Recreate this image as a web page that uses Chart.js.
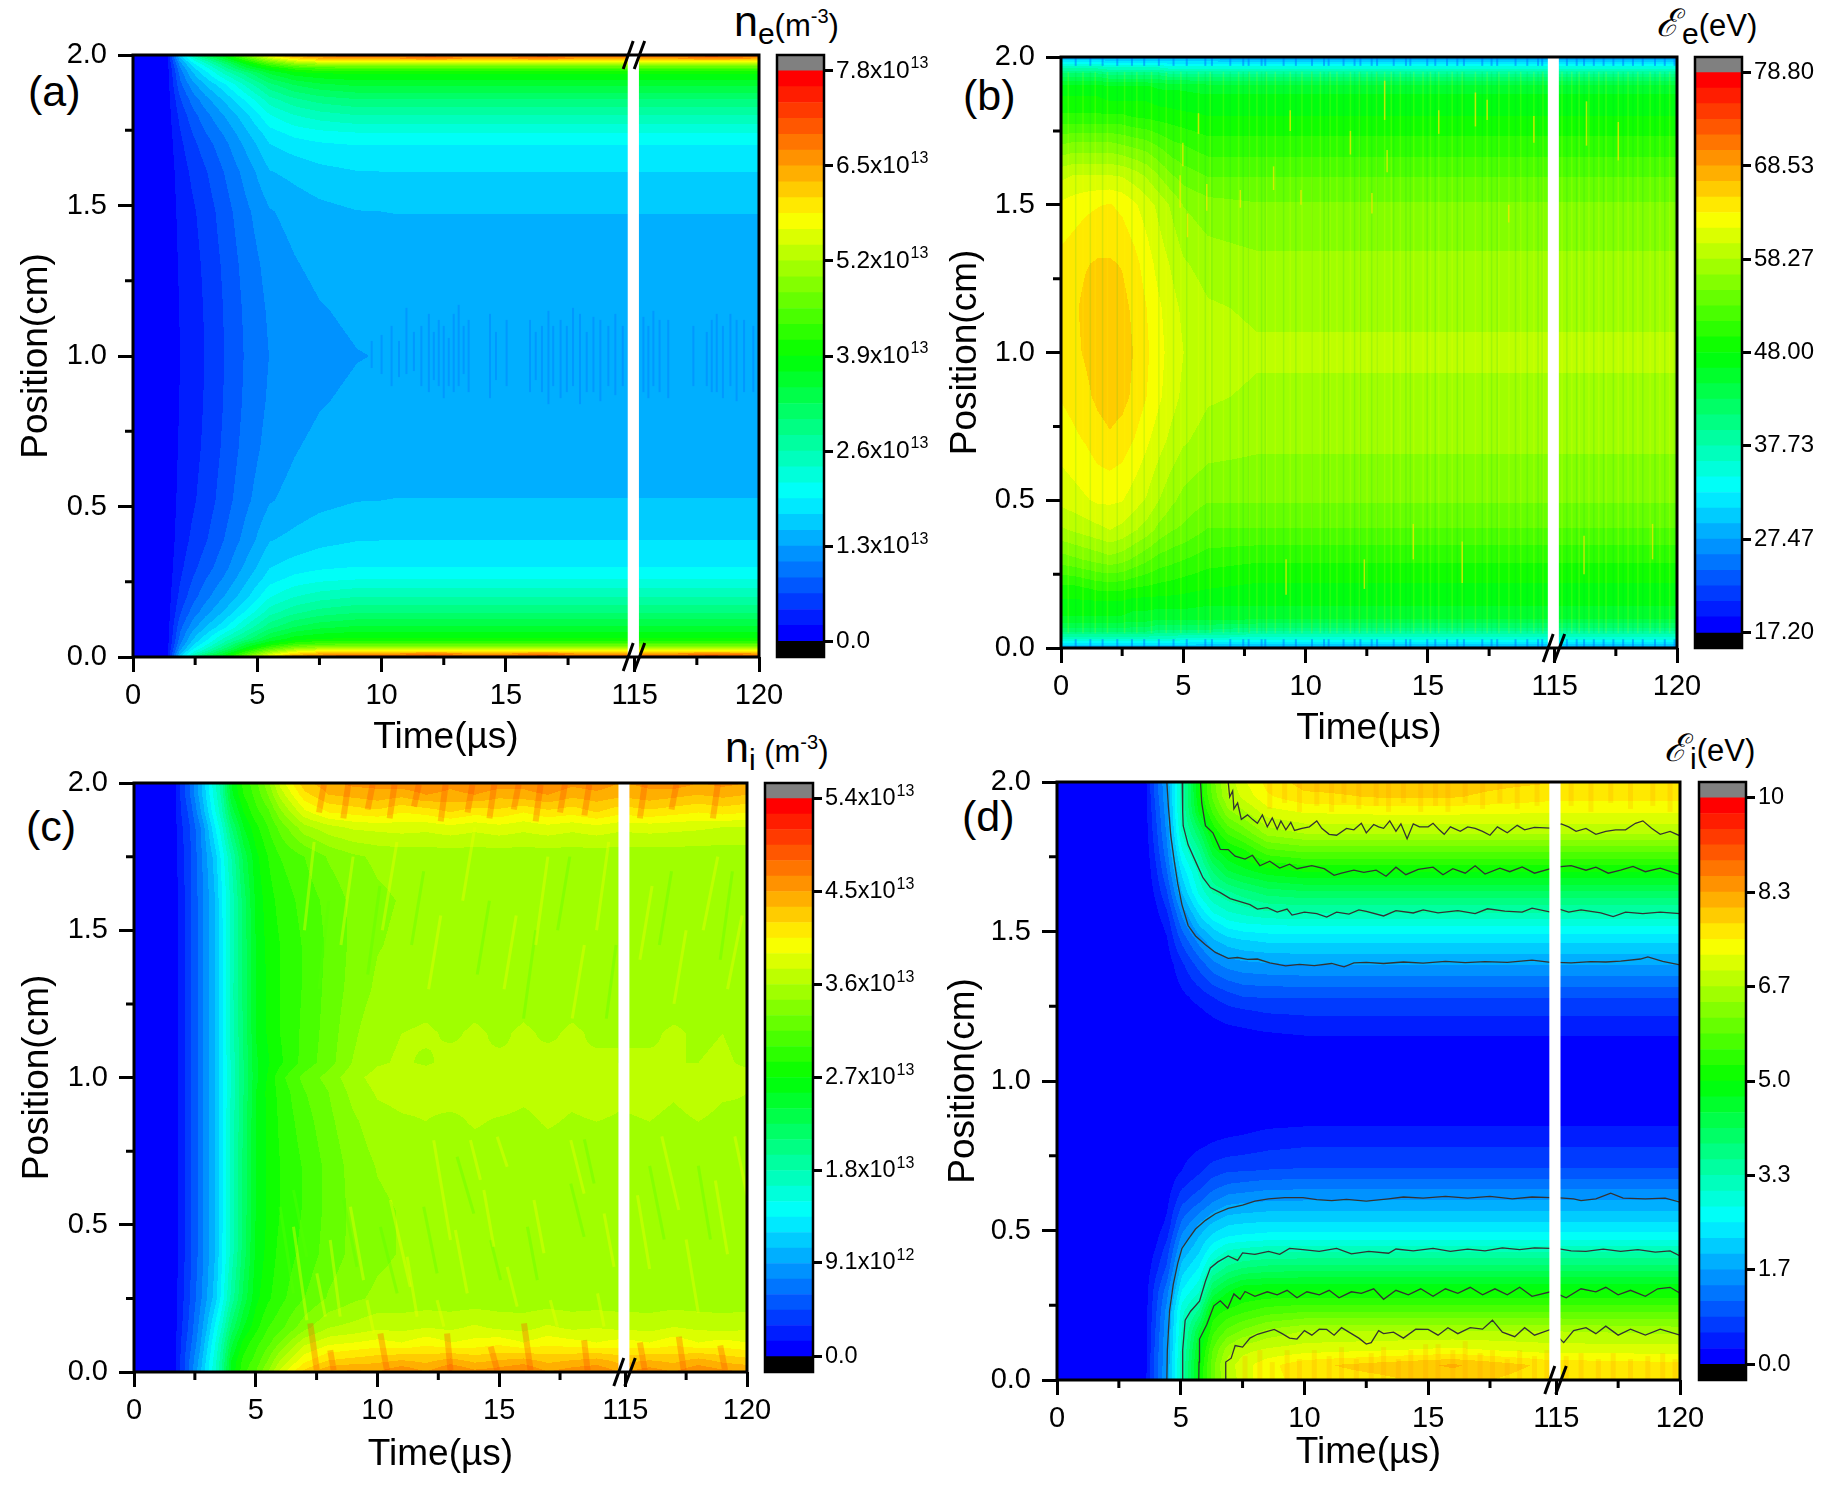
<!DOCTYPE html>
<html>
<head>
<meta charset="utf-8">
<title>Plasma contour panels</title>
<script src="https://cdn.jsdelivr.net/npm/chart.js@4"></script>
<style>
  html, body { margin: 0; padding: 0; background: #fff; }
  #page { position: relative; width: 1830px; height: 1485px; overflow: hidden; font-family: "Liberation Sans", Arial, sans-serif; color: #000; }
  canvas { position: absolute; }
  .lbl { position: absolute; white-space: nowrap; line-height: 1; }
  .letter { font-size: 43px; }
  .big { font-size: 43px; }
  .mid { font-size: 31px; }
  .sub { font-size: 30px; position: relative; top: 8px; }
  .sup { font-size: 20px; position: relative; top: -13px; }
  .script { font-family: "DejaVu Serif", serif; font-style: italic; font-size: 38px; margin-right: 3px; }
</style>
</head>
<body>
<div id="page">
  <div class="lbl letter" style="left:28px;top:70px">(a)</div>
  <div class="lbl letter" style="left:963px;top:74px">(b)</div>
  <div class="lbl letter" style="left:26px;top:805px">(c)</div>
  <div class="lbl letter" style="left:962px;top:795px">(d)</div>
  <div class="lbl" style="left:734px;top:0px"><span class="big">n</span><span class="sub">e</span><span class="mid">(m</span><span class="sup">-3</span><span class="mid">)</span></div>
  <div class="lbl" style="left:1656px;top:4px"><span class="script">ℰ</span><span class="sub">e</span><span class="mid">(eV)</span></div>
  <div class="lbl" style="left:725px;top:726px"><span class="big">n</span><span class="sub">i</span><span class="mid"> (m</span><span class="sup">-3</span><span class="mid">)</span></div>
  <div class="lbl" style="left:1664px;top:729px"><span class="script">ℰ</span><span class="sub">i</span><span class="mid">(eV)</span></div>
</div>
<script>
// axis ticks
const timeTickPos = [0, 5, 10, 15, 20.18, 25.18];
const timeTickText = ['0', '5', '10', '15', '115', '120'];
const timeMinorPos = [2.5, 7.5, 12.5, 17.5, 22.68];
const posTicks = [0, 0.5, 1, 1.5, 2];
const posMinor = [0.25, 0.75, 1.25, 1.75];

// (a) electron density, 1e13 m-3. one row per time, values run from position 0 up to 2
const neBarTicks = [0, 1.3, 2.6, 3.9, 5.2, 6.5, 7.8];
const neBarText = ['0.0', '1.3x10', '2.6x10', '3.9x10', '5.2x10', '6.5x10', '7.8x10'];
const neBarExp = ['', '13', '13', '13', '13', '13', '13'];
const neTimes = [0, 1.3, 1.4, 1.9, 2.4, 2.9, 3.7, 4.5, 5.5, 6.5, 7.5, 9, 10.5, 12, 13.5, 15, 16.5, 18, 19.9, 115, 116.5, 118, 120];
const nePositions = [0, .01, .02, .03, .045, .06, .1, .15, .2, .26, .3, .39, .52, .7, .85, 1, 1.15, 1.3, 1.48, 1.61, 1.7, 1.74, 1.8, 1.85, 1.9, 1.94, 1.955, 1.97, 1.98, 1.99, 2];
const neValues = [
  [0,0,0,0,0,0,0,0,0,0,0,0,0,0,0,0,0,0,0,0,0,0,0,0,0,0,0,0,0,0,0],
  [.03,.03,.03,.03,.03,.03,.02,.02,.02,.02,.02,.02,.02,.02,.02,.02,.02,.02,.02,.02,.02,.02,.02,.02,.02,.03,.03,.03,.03,.03,.03],
  [.22,.2,.19,.18,.17,.16,.14,.13,.12,.11,.1,.09,.08,.07,.06,.06,.06,.07,.08,.09,.1,.11,.12,.13,.14,.16,.17,.18,.19,.2,.22],
  [1.7,1.5,1.35,1.2,1.05,.95,.8,.62,.5,.42,.38,.32,.28,.25,.23,.22,.23,.25,.28,.32,.38,.42,.5,.62,.8,.95,1.05,1.2,1.35,1.5,1.7],
  [2.6,2.3,2.05,1.85,1.65,1.5,1.2,.95,.78,.65,.58,.48,.4,.36,.34,.33,.34,.36,.4,.48,.58,.65,.78,.95,1.2,1.5,1.65,1.85,2.05,2.3,2.6],
  [3.3,2.9,2.55,2.3,2.05,1.85,1.5,1.2,1,.85,.75,.62,.52,.47,.45,.44,.45,.47,.52,.62,.75,.85,1,1.2,1.5,1.85,2.05,2.3,2.55,2.9,3.3],
  [3.9,3.6,3.3,3,2.7,2.45,1.9,1.55,1.32,1.12,1.02,.88,.77,.7,.67,.66,.67,.7,.77,.88,1.02,1.12,1.32,1.55,1.9,2.45,2.7,3,3.3,3.6,3.9],
  [4.8,4.4,4.05,3.7,3.35,2.9,2.4,1.95,1.65,1.45,1.33,1.15,1.02,.94,.9,.88,.9,.94,1.02,1.15,1.33,1.45,1.65,1.95,2.4,2.9,3.35,3.7,4.05,4.4,4.8],
  [5.9,5.4,4.9,4.4,3.85,3.5,2.95,2.5,2.15,1.85,1.72,1.5,1.28,1.17,1.12,1.09,1.12,1.17,1.28,1.5,1.72,1.85,2.15,2.5,2.95,3.5,3.85,4.4,4.9,5.4,5.9],
  [6.6,6.1,5.5,4.9,4.2,3.8,3.25,2.75,2.38,2.02,1.83,1.58,1.38,1.28,1.2,1.16,1.2,1.28,1.38,1.58,1.83,2.02,2.38,2.75,3.25,3.8,4.2,4.9,5.5,6.1,6.6],
  [6.9,6.4,5.8,5.1,4.35,3.9,3.4,2.9,2.5,2.1,1.9,1.66,1.45,1.36,1.28,1.22,1.28,1.36,1.45,1.66,1.9,2.1,2.5,2.9,3.4,3.9,4.35,5.1,5.8,6.4,6.9],
  [7,6.6,5.9,5.2,4.4,3.95,3.5,3,2.6,2.15,1.95,1.72,1.51,1.42,1.35,1.29,1.35,1.42,1.51,1.72,1.95,2.15,2.6,3,3.5,3.95,4.4,5.2,5.9,6.6,7],
  [7.1,6.6,5.9,5.2,4.4,3.95,3.5,3,2.6,2.15,1.95,1.73,1.52,1.44,1.38,1.32,1.38,1.44,1.52,1.73,1.95,2.15,2.6,3,3.5,3.95,4.4,5.2,5.9,6.6,7.1],
  [7.2,6.7,5.9,5.2,4.4,3.95,3.5,3,2.6,2.15,1.95,1.73,1.52,1.44,1.38,1.31,1.38,1.44,1.52,1.73,1.95,2.15,2.6,3,3.5,3.95,4.4,5.2,5.9,6.7,7.2],
  [7,6.6,5.9,5.2,4.4,3.95,3.5,3,2.6,2.15,1.95,1.73,1.52,1.44,1.38,1.31,1.38,1.44,1.52,1.73,1.95,2.15,2.6,3,3.5,3.95,4.4,5.2,5.9,6.6,7],
  [7.1,6.6,5.9,5.2,4.4,3.95,3.5,3,2.6,2.15,1.95,1.73,1.52,1.44,1.38,1.33,1.38,1.44,1.52,1.73,1.95,2.15,2.6,3,3.5,3.95,4.4,5.2,5.9,6.6,7.1],
  [7.2,6.7,5.9,5.2,4.4,3.95,3.5,3,2.6,2.15,1.95,1.73,1.52,1.44,1.38,1.31,1.38,1.44,1.52,1.73,1.95,2.15,2.6,3,3.5,3.95,4.4,5.2,5.9,6.7,7.2],
  [7,6.6,5.9,5.2,4.4,3.95,3.5,3,2.6,2.15,1.95,1.73,1.52,1.44,1.38,1.31,1.38,1.44,1.52,1.73,1.95,2.15,2.6,3,3.5,3.95,4.4,5.2,5.9,6.6,7],
  [7.1,6.6,5.9,5.2,4.4,3.95,3.5,3,2.6,2.15,1.95,1.73,1.52,1.44,1.38,1.31,1.38,1.44,1.52,1.73,1.95,2.15,2.6,3,3.5,3.95,4.4,5.2,5.9,6.6,7.1],
  [7.1,6.6,5.9,5.2,4.4,3.95,3.5,3,2.6,2.15,1.95,1.73,1.52,1.44,1.38,1.31,1.38,1.44,1.52,1.73,1.95,2.15,2.6,3,3.5,3.95,4.4,5.2,5.9,6.6,7.1],
  [7,6.6,5.9,5.2,4.4,3.95,3.5,3,2.6,2.15,1.95,1.73,1.52,1.44,1.38,1.33,1.38,1.44,1.52,1.73,1.95,2.15,2.6,3,3.5,3.95,4.4,5.2,5.9,6.6,7],
  [7.2,6.7,5.9,5.2,4.4,3.95,3.5,3,2.6,2.15,1.95,1.73,1.52,1.44,1.38,1.31,1.38,1.44,1.52,1.73,1.95,2.15,2.6,3,3.5,3.95,4.4,5.2,5.9,6.7,7.2],
  [7.1,6.6,5.9,5.2,4.4,3.95,3.5,3,2.6,2.15,1.95,1.73,1.52,1.44,1.38,1.31,1.38,1.44,1.52,1.73,1.95,2.15,2.6,3,3.5,3.95,4.4,5.2,5.9,6.6,7.1]
];
// darker spikes around the middle of (a), [time, from position, to position]
const neCentreSpikes = [[9.6,.96,1.05],[10,.94,1.07],[10.4,.9,1.1],[10.7,.93,1.05],[11,.94,1.16],[11.3,.95,1.08],[11.6,.9,1.1],[11.9,.88,1.14],[12.1,.92,1.08],[12.3,.9,1.12],[12.5,.86,1.1],[12.7,.9,1.06],[12.9,.88,1.14],[13.1,.9,1.17],[13.3,.94,1.1],[13.5,.88,1.12],[14.36,.86,1.14],[14.6,.92,1.08],[15.03,.9,1.12],[15.97,.88,1.12],[16.2,.92,1.08],[16.45,.88,1.1],[16.71,.84,1.15],[16.9,.9,1.1],[17.2,.86,1.12],[17.45,.88,1.1],[17.7,.9,1.16],[17.98,.84,1.14],[18.25,.88,1.08],[18.52,.88,1.13],[18.8,.85,1.12],[19.12,.9,1.1],[19.4,.87,1.14],[19.7,.9,1.1],[115.1,.9,1.1],[115.35,.88,1.13],[115.55,.86,1.1],[115.75,.9,1.15],[116,.88,1.12],[116.35,.86,1.12],[117.36,.9,1.1],[117.9,.9,1.08],[118.1,.88,1.12],[118.3,.88,1.14],[118.55,.86,1.1],[118.85,.9,1.14],[119.1,.85,1.12],[119.4,.88,1.12],[119.77,.88,1.1]];

// (b) electron energy, eV
const eeBarTicks = [17.2, 27.47, 37.73, 48, 58.27, 68.53, 78.8];
const eeBarText = ['17.20', '27.47', '37.73', '48.00', '58.27', '68.53', '78.80'];
const eeBarExp = ['', '', '', '', '', '', ''];
const eeTimes = [0, .5, 1, 1.5, 2, 2.5, 3, 3.5, 4, 4.5, 5, 6, 8, 12, 19.9, 115, 120];
const eePositions = [0, .01, .03, .06, .1, .15, .2, .3, .4, .5, .7, .85, 1, 1.15, 1.3, 1.5, 1.6, 1.7, 1.8, 1.85, 1.9, 1.94, 1.97, 1.99, 2];
const eeValues = [
  [27,31,36,42,46,47.5,49,54,58,60.5,62.5,63.5,64,64.2,64,62,59.5,55,50,48.5,47,42,36,31,27],
  [27,31,36,42,46,47.5,49,54.5,58.5,61,63,64,64.7,64.8,64.5,62.5,60,55.5,50,48.5,47,42,36,31,27],
  [27,31,36,42,46,47.5,49.5,55,59,61.5,63.5,64.7,65.3,65.5,65,63,60,55.5,50,48.5,47,42,36,31,27],
  [27,31,36,42,46,47.5,50,55.5,59.5,62,64.3,65.5,66,66,65.3,63.3,60,55.5,50,48.5,47,42,36,31,27],
  [27,31,36,42,46,47.5,50,56,60,62,64.8,66,66.5,66.3,65.3,63.5,60,55.5,50,48,46.5,41,35,30,27],
  [27,31,36,42,46,47.5,50,55.5,59.5,61.8,64.3,65.7,66,65.7,65,63,59.8,55,50,48,46.5,41,35,30,27],
  [27,31,36,42,45.5,47,49.5,54.5,58.5,60.8,63.3,64.7,65,64.7,64,62,59,54.5,49.5,48,46.5,41,35,30,27],
  [27,31,36,42,45.5,47,49.3,53.5,57.5,59.8,62,63.4,63.7,63.4,62.6,60.8,58,54,49.3,48,46.5,41,35,30,27],
  [27,31,36,41,45,47,49,52.5,56,58.3,60.7,62,62.3,62,61,59.5,56.5,53,49,47.5,46,41,35,30,27],
  [27,31,36,41,45,47,48.8,52,55,57,59.5,60.7,61,60.7,59.8,58,55,52,48.8,47.3,46,40,34,30,27],
  [27,31,35,41,45,47,48.5,51.5,54.5,56,58.5,59.6,60,59.6,58.5,56.5,54,51.5,48.5,47,46,40,34,30,27],
  [26,30,35,41,45,46.5,48,50.5,53,55,57.5,58.5,59,58.5,57.5,55.5,53,50.5,48,47,45.5,40,34,30,26],
  [26,30,35,40,45,46.5,47.5,50,53,55,57,58,58.5,58,57,55,53,50.5,48,47,45.5,40,34,29,26],
  [26,30,35,40,45,46.5,47.5,50,53,55,57,58,58.5,58,57,55,53,50.5,48,47,45.5,40,34,29,26],
  [26,30,35,40,45,46.5,47.5,50,53,55,57,58,58.5,58,57,55,53,50.5,48,47,45.5,40,34,29,26],
  [26,30,35,40,45,46.5,47.5,50,53,55,57,58,58.5,58,57,55,53,50.5,48,47,45.5,40,34,29,26],
  [26,30,35,40,45,46.5,47.5,50,53,55,57,58,58.5,58,57,55,53,50.5,48,47,45.5,40,34,29,26]
];
// thin vertical streaks of (b), times
const eeLightTimes = [.3,.9,1.4,1.9,2.6,3.1,3.7,4.3,4.9,5.62,6.1,6.64,7.26,7.7,8.01,8.4,8.76,9.37,9.85,10.25,10.6,11,11.28,11.83,12.2,12.51,12.9,13.23,13.5,13.87,14.42,14.8,15.1,15.44,15.99,16.4,16.94,17.42,17.9,18.31,18.79,19.33,19.7,115.3,115.7,116,116.4,116.8,117.1,117.6,118,118.4,118.9,119.3,119.7];
const eeDarkTimes = [.6,1.2,1.7,2.3,2.9,3.4,4,4.6,5.14,5.9,6.17,6.92,7.45,7.67,8.2,8.35,9.1,9.6,10.26,10.75,10.94,11.55,12,12.24,12.7,12.92,13.6,14.1,14.28,14.97,15.3,15.78,16.2,16.47,17.22,17.6,17.83,18.58,19.06,19.5,19.67,115.1,115.5,115.9,116.2,116.6,117,117.4,117.8,118.2,118.6,119.1,119.5,119.9];
// brighter short streaks, [time, from position, to position]
const eeBrightSpikes = [[13.23,1.787,1.92],[15.44,1.74,1.82],[11.83,1.67,1.75],[13.33,1.61,1.685],[5.62,1.74,1.81],[4.98,1.63,1.71],[4.87,1.49,1.6],[9.37,1.75,1.82],[7.33,1.49,1.55],[9.81,1.5,1.55],[5.17,1.39,1.47],[5.96,1.48,1.57],[8.69,1.55,1.63],[12.71,1.47,1.54],[16.94,1.765,1.88],[19.33,1.71,1.8],[18.3,1.44,1.5],[17.42,1.787,1.855],[12.4,.2,.3],[16.4,.22,.36],[9.2,.18,.3],[14.4,.3,.42],[117.6,1.65,1.78],[116.3,1.7,1.85],[116.2,.25,.38],[119,.3,.42]];

// (c) ion density, 1e13 m-3
const niBarTicks = [0, 0.91, 1.8, 2.7, 3.6, 4.5, 5.4];
const niBarText = ['0.0', '9.1x10', '1.8x10', '2.7x10', '3.6x10', '4.5x10', '5.4x10'];
const niBarExp = ['', '12', '13', '13', '13', '13', '13'];
const niTimes = [0, 1.6, 1.9, 2.3, 2.7, 3, 3.3, 3.6, 4, 4.5, 5, 5.5, 6, 7, 8, 9, 10, 11, 12, 13, 14, 15, 16, 17, 18, 19, 19.9, 115, 116, 117, 118, 119, 120];
const niPositions = [0, .04, .1, .15, .25, .4, .55, .7, .85, .95, 1, 1.05, 1.15, 1.3, 1.45, 1.6, 1.75, 1.85, 1.9, 1.96, 2];
const niValues = [
  [0,0,0,0,0,0,0,0,0,0,0,0,0,0,0,0,0,0,0,0,0],
  [.05,.05,.05,.05,.05,.05,.05,.05,.05,.05,.05,.05,.05,.05,.05,.05,.05,.05,.05,.05,.05],
  [.3,.3,.28,.25,.22,.2,.2,.2,.2,.2,.2,.2,.2,.2,.2,.2,.22,.25,.28,.3,.3],
  [.65,.62,.55,.5,.45,.42,.42,.42,.42,.42,.42,.42,.42,.42,.42,.42,.42,.45,.5,.6,.62],
  [1,.95,.85,.8,.7,.65,.65,.65,.65,.65,.65,.65,.65,.65,.65,.65,.68,.72,.85,.95,.98],
  [1.3,1.25,1.15,1.05,.9,.85,.85,.85,.85,.85,.85,.85,.85,.85,.85,.85,.9,1,1.15,1.25,1.28],
  [1.6,1.55,1.45,1.35,1.1,1.03,1.02,1.02,1.02,1.02,1.02,1.02,1.02,1.02,1.02,1.03,1.1,1.31,1.45,1.55,1.6],
  [1.95,1.9,1.8,1.65,1.4,1.32,1.31,1.31,1.31,1.31,1.31,1.31,1.31,1.31,1.31,1.32,1.4,1.6,1.75,1.85,1.9],
  [2.6,2.55,2.35,2.15,1.85,1.72,1.7,1.7,1.7,1.68,1.65,1.68,1.72,1.73,1.7,1.7,1.8,2.1,2.3,2.5,2.55],
  [2.95,2.9,2.75,2.55,2.3,2.18,2.15,2.15,2.12,2.1,2.1,2.1,2.12,2.15,2.15,2.17,2.3,2.55,2.7,2.85,2.9],
  [3.15,3.05,2.95,2.8,2.65,2.58,2.55,2.55,2.55,2.55,2.5,2.52,2.55,2.55,2.55,2.58,2.65,2.8,2.95,3.05,3.1],
  [3.45,3.3,3.1,3,2.82,2.75,2.72,2.72,2.72,2.74,2.72,2.68,2.72,2.72,2.75,2.78,2.85,3,3.1,3.3,3.4],
  [3.8,3.6,3.3,3.1,2.95,2.9,2.85,2.85,2.88,2.9,2.95,2.82,2.85,2.85,2.85,2.9,3,3.2,3.4,3.65,3.8],
  [4.25,4,3.7,3.4,3.15,3.05,3.02,3.02,3.08,3.14,3.2,3.06,3.04,3.02,3.02,3.06,3.15,3.55,3.85,4.15,4.3],
  [4.5,4.2,3.85,3.6,3.32,3.22,3.2,3.2,3.26,3.3,3.36,3.24,3.22,3.2,3.18,3.2,3.32,3.7,4.05,4.35,4.45],
  [4.55,4.25,3.9,3.65,3.42,3.34,3.34,3.36,3.42,3.5,3.55,3.46,3.42,3.36,3.34,3.34,3.42,3.78,4.1,4.4,4.55],
  [4.5,4.3,3.95,3.72,3.48,3.42,3.42,3.46,3.54,3.62,3.66,3.58,3.56,3.48,3.44,3.42,3.48,3.8,4.15,4.45,4.55],
  [4.65,4.35,3.9,3.7,3.5,3.46,3.46,3.5,3.58,3.65,3.7,3.62,3.6,3.52,3.48,3.46,3.5,3.82,4.05,4.4,4.6],
  [4.5,4.3,4,3.75,3.5,3.46,3.46,3.5,3.6,3.64,3.68,3.58,3.62,3.54,3.48,3.46,3.5,3.8,4.1,4.5,4.65],
  [4.7,4.4,3.9,3.72,3.5,3.46,3.46,3.5,3.56,3.68,3.74,3.64,3.58,3.52,3.48,3.46,3.5,3.85,4.2,4.45,4.55],
  [4.55,4.3,3.95,3.78,3.5,3.46,3.46,3.5,3.62,3.64,3.66,3.6,3.62,3.54,3.48,3.46,3.5,3.8,4.1,4.5,4.65],
  [4.6,4.35,4,3.72,3.5,3.46,3.46,3.5,3.58,3.7,3.74,3.62,3.58,3.52,3.48,3.46,3.5,3.85,4.15,4.4,4.6],
  [4.7,4.4,3.9,3.7,3.5,3.46,3.46,3.5,3.56,3.64,3.68,3.6,3.62,3.54,3.48,3.46,3.5,3.8,4.05,4.45,4.55],
  [4.5,4.3,4,3.78,3.5,3.46,3.46,3.5,3.62,3.66,3.64,3.64,3.58,3.52,3.48,3.46,3.5,3.85,4.15,4.5,4.65],
  [4.6,4.35,3.95,3.72,3.5,3.46,3.46,3.5,3.58,3.64,3.7,3.6,3.62,3.54,3.48,3.46,3.5,3.8,4.1,4.4,4.55],
  [4.65,4.4,3.9,3.75,3.5,3.46,3.46,3.5,3.6,3.68,3.72,3.62,3.58,3.52,3.48,3.46,3.5,3.85,4.2,4.45,4.6],
  [4.5,4.3,3.95,3.72,3.5,3.46,3.46,3.5,3.58,3.64,3.68,3.6,3.6,3.52,3.48,3.46,3.5,3.8,4.1,4.4,4.5],
  [4.5,4.3,3.95,3.72,3.5,3.46,3.46,3.5,3.58,3.64,3.68,3.6,3.6,3.52,3.48,3.46,3.5,3.8,4.1,4.4,4.5],
  [4.6,4.35,3.9,3.7,3.5,3.46,3.46,3.5,3.6,3.66,3.68,3.62,3.58,3.52,3.48,3.46,3.5,3.82,4.15,4.45,4.55],
  [4.5,4.3,4,3.76,3.5,3.46,3.46,3.5,3.56,3.62,3.64,3.6,3.62,3.52,3.48,3.46,3.5,3.8,4.1,4.4,4.6],
  [4.65,4.4,3.9,3.72,3.5,3.46,3.46,3.5,3.6,3.68,3.7,3.6,3.58,3.54,3.48,3.46,3.5,3.78,4.05,4.35,4.5],
  [4.55,4.3,3.95,3.7,3.5,3.46,3.46,3.5,3.56,3.62,3.64,3.62,3.6,3.52,3.48,3.46,3.5,3.75,4.1,4.4,4.55],
  [4.5,4.25,3.9,3.72,3.5,3.46,3.46,3.48,3.58,3.6,3.64,3.58,3.56,3.52,3.48,3.46,3.5,3.75,4.05,4.35,4.5]
];
// slanted streaks of (c), [time1, position1, time2, position2]
const niYellowStreaks = [[6.55,.493,7.1,.176],[8.06,.448,8.47,.188],[10.53,.584,11.35,.289],[11.22,.391,11.63,.188],[12.31,.787,13,.448],[13.2,.482,13.69,.267],[15.33,.357,15.74,.222],[16.43,.584,16.84,.403],[17.94,.787,18.49,.606],[19.31,.538,19.72,.357],[8.89,.561,9.43,.312],[14.37,.618,14.78,.425],[17.1,.244,17.39,.154],[9.57,.244,9.85,.131],[12.45,.244,12.73,.154],[19.04,.267,19.31,.154],[7.51,.335,7.86,.188],[13.82,.787,14.23,.652],[14.92,.799,15.33,.697],[7,1.5,7.4,1.8],[8.5,1.45,9,1.75],[10.2,1.5,10.8,1.8],[12.1,1.3,12.6,1.55],[13.5,1.6,14,1.85],[15.2,1.3,15.7,1.55],[16.5,1.45,17,1.75],[18,1.2,18.5,1.45],[19,1.5,19.5,1.8],[115.5,.6,116,.35],[116.5,.8,117.2,.55],[117.5,.45,118,.2],[118.7,.65,119.2,.4],[119.5,.8,120,.6],[115.6,1.4,116.1,1.65],[117,1.25,117.5,1.5],[118.2,1.5,118.8,1.75],[119.2,1.3,119.8,1.55]];
const niGreenStreaks = [[6.55,.618,7.1,.391],[10.12,.493,10.81,.267],[11.9,.561,12.45,.335],[14.65,.448,15.06,.312],[16.16,.493,16.57,.312],[17.94,.64,18.49,.459],[8.61,.584,9.16,.357],[13.27,.731,13.96,.538],[6,.561,6.55,.267],[18.5,.79,18.9,.64],[7.6,1.3,8,1.6],[9.6,1.35,10.1,1.65],[11.4,1.45,11.9,1.7],[14.1,1.35,14.6,1.6],[16,1.2,16.5,1.5],[17.4,1.5,17.9,1.75],[19.4,1.2,19.8,1.45],[116,.7,116.6,.45],[118,.7,118.5,.45],[116.4,1.45,116.9,1.7],[118.9,1.4,119.4,1.7]];
const niOrangeStreaks = [[7.24,.165,7.51,.006],[8.06,.074,8.2,.006],[10.12,.131,10.39,.006],[12.86,.131,13,.006],[14.65,.086,14.92,.006],[16.02,.165,16.29,.006],[18.49,.108,18.63,.006],[115.6,.1,115.8,.006],[117.2,.12,117.4,.006],[118.9,.09,119.1,.006],[7.6,1.9,7.8,1.994],[8.6,1.88,8.8,1.994],[9.6,1.91,9.8,1.994],[10.5,1.88,10.7,1.994],[11.5,1.92,11.7,1.994],[12.6,1.87,12.8,1.994],[13.7,1.9,13.9,1.994],[14.6,1.88,14.8,1.994],[15.6,1.91,15.8,1.994],[16.5,1.87,16.7,1.994],[17.5,1.9,17.7,1.994],[18.5,1.89,18.7,1.994],[115.6,1.88,115.8,1.994],[116.9,1.91,117.1,1.994],[118.6,1.88,118.8,1.994]];

// (d) ion energy, eV
const eiBarTicks = [0, 1.67, 3.33, 5, 6.67, 8.33, 10];
const eiBarText = ['0.0', '1.7', '3.3', '5.0', '6.7', '8.3', '10'];
const eiBarExp = ['', '', '', '', '', '', ''];
const eiTimes = [0, 3.6, 4, 4.44, 5.05, 5.75, 6.3, 6.9, 7.5, 8.5, 10, 13, 16, 19.9, 115, 120];
const eiPositions = [0, .05, .1, .16, .23, .3, .37, .43, .48, .52, .6, .65, .7, .78, .85, 1, 1.15, 1.22, 1.28, 1.39, 1.47, 1.52, 1.56, 1.63, 1.7, 1.77, 1.83, 1.9, 1.95, 2];
const eiValues = [
  [0,0,0,0,0,0,0,0,0,0,0,0,0,0,0,0,0,0,0,0,0,0,0,0,0,0,0,0,0,0],
  [.25,.24,.23,.22,.2,.18,.12,.06,.03,.01,0,0,0,0,0,0,0,0,0,0,0,.01,.02,.05,.08,.12,.18,.2,.22,.25],
  [1,.98,.95,.88,.8,.7,.48,.32,.2,.12,.03,.01,0,0,0,0,0,0,.02,.06,.1,.14,.2,.35,.5,.65,.75,.85,.95,1],
  [1.67,1.66,1.63,1.6,1.5,1.25,.9,.7,.5,.35,.2,.13,.08,.04,.02,0,0,.01,.03,.1,.25,.35,.5,.8,1.1,1.3,1.45,1.55,1.62,1.67],
  [3.3,3.3,3.2,3.1,2.95,2.5,2.1,1.75,1.45,1.2,.75,.5,.28,.15,.06,0,.04,.1,.2,.5,.9,1.2,1.45,1.95,2.3,2.75,3.1,3.3,3.3,3.3],
  [5,4.95,4.8,4.5,3.7,3,2.55,2.2,1.95,1.7,1.05,.75,.5,.25,.1,0,.08,.18,.38,.95,1.5,1.95,2.25,2.85,3.15,3.6,4.1,4.8,5,5.05],
  [6,6,5.85,5.5,5.1,4.2,3.35,2.75,2.3,2,1.35,1,.7,.32,.13,0,.1,.3,.55,1.3,1.9,2.3,2.75,3.35,3.9,4.6,5.05,5.6,5.9,6],
  [6.7,6.8,6.55,5.95,5.35,4.65,3.75,3.1,2.5,2.2,1.55,1.15,.8,.38,.15,.01,.15,.38,.7,1.5,2.1,2.6,3,3.55,4.4,5,5.6,6.3,6.65,6.75],
  [7.1,7.1,6.85,6.2,5.5,4.95,3.95,3.2,2.55,2.25,1.6,1.2,.82,.42,.17,.02,.18,.42,.82,1.58,2.2,2.7,3.1,3.75,4.6,5.2,5.9,6.6,7,7.15],
  [7.4,7.4,7,6.5,5.7,5,4.05,3.3,2.6,2.3,1.65,1.28,.85,.5,.24,.04,.22,.52,.85,1.63,2.28,2.75,3.25,4,4.85,5.75,6.5,7.1,7.45,7.6],
  [7.6,7.7,7.1,6.7,5.8,5,4.1,3.3,2.6,2.3,1.67,1.3,.87,.55,.27,.05,.27,.56,.85,1.67,2.3,2.8,3.3,4.1,5,5.9,6.7,7.25,7.7,7.9],
  [7.7,7.9,7.2,6.7,5.8,5,4.1,3.3,2.6,2.3,1.67,1.3,.87,.55,.27,.05,.27,.56,.85,1.67,2.3,2.8,3.3,4.1,5,5.9,6.7,7.3,7.8,7.9],
  [7.9,8.1,7.3,6.7,5.8,5,4.1,3.3,2.6,2.3,1.67,1.3,.87,.55,.27,.05,.27,.56,.85,1.67,2.3,2.8,3.3,4.1,5,5.9,6.7,7.3,7.8,7.9],
  [7.6,7.7,7.1,6.7,5.8,5,4.1,3.3,2.6,2.3,1.67,1.3,.87,.55,.27,.05,.27,.56,.85,1.67,2.3,2.8,3.3,4.1,5,5.9,6.7,7.25,7.6,7.8],
  [7.6,7.7,7.1,6.7,5.8,5,4.1,3.3,2.6,2.3,1.67,1.3,.87,.55,.27,.05,.27,.56,.85,1.67,2.3,2.8,3.3,4.1,5,5.9,6.7,7.25,7.6,7.8],
  [7.6,7.6,7.1,6.6,5.8,5,4.1,3.3,2.6,2.3,1.67,1.3,.87,.55,.27,.05,.27,.56,.85,1.67,2.3,2.8,3.3,4.1,5,5.9,6.7,7.25,7.6,7.7]
];
// orange streaks next to the walls of (d), [time, from position, to position]
const eiWallSpikes = [[7.6,0,.08],[8.2,0,.1],[8.7,0,.06],[9.3,0,.1],[9.8,0,.07],[10.4,0,.1],[11,0,.08],[11.5,0,.11],[12.1,0,.07],[12.7,0,.09],[13.2,0,.11],[13.8,0,.07],[14.3,0,.1],[14.9,0,.12],[15.4,0,.12],[16,0,.1],[16.5,0,.13],[17.1,0,.09],[17.6,0,.1],[18.2,0,.07],[18.7,0,.1],[19.3,0,.08],[19.8,0,.1],[115.4,0,.08],[116,0,.09],[116.7,0,.07],[117.3,0,.09],[118,0,.07],[118.7,0,.08],[119.3,0,.09],[119.8,0,.07],[8.6,1.91,2],[9.2,1.93,2],[9.8,1.9,2],[10.5,1.92,2],[11.1,1.9,2],[11.6,1.93,2],[12.2,1.91,2],[12.9,1.92,2],[13.4,1.9,2],[14,1.93,2],[14.7,1.9,2],[15.3,1.92,2],[15.8,1.9,2],[16.5,1.93,2],[17.2,1.91,2],[17.9,1.93,2],[18.6,1.91,2],[19.4,1.92,2],[115.6,1.92,2],[116.4,1.9,2],[117.2,1.93,2],[118,1.91,2],[118.9,1.92,2],[119.6,1.9,2]];

// (d) black contour lines, [time, position]
const eiLine1Top = [[4.44,2],[4.5,1.92],[4.6,1.82],[4.75,1.73],[4.88,1.66],[5.05,1.59],[5.3,1.52],[5.6,1.485],[6,1.456],[6.4,1.43],[6.92,1.41],[7.3,1.413],[7.7,1.407],[8.1,1.408],[8.6,1.395],[9.24,1.385],[9.8,1.39],[10.4,1.386],[11.1,1.393],[11.6,1.382],[12,1.395],[12.5,1.397],[13.2,1.393],[14,1.398],[14.8,1.394],[15.7,1.4],[16.5,1.396],[17.3,1.399],[18.2,1.397],[19.2,1.404],[19.95,1.397],[115,1.397],[115.6,1.395],[116.4,1.399],[117,1.398],[117.6,1.401],[118.4,1.408],[118.7,1.415],[119.3,1.4],[120,1.388]];
const eiLine2Top = [[5.06,2],[5.08,1.9],[5.1,1.854],[5.3,1.79],[5.64,1.727],[5.9,1.68],[6.2,1.647],[6.6,1.63],[7,1.61],[7.4,1.6],[7.8,1.59],[8.1,1.575],[8.5,1.58],[8.9,1.565],[9.3,1.575],[9.5,1.555],[10,1.565],[10.5,1.56],[10.9,1.548],[11.3,1.565],[11.8,1.558],[12.2,1.572],[12.5,1.567],[13.2,1.552],[13.7,1.57],[14.4,1.562],[14.8,1.572],[15.4,1.562],[16.2,1.57],[16.9,1.56],[17.4,1.576],[18.1,1.568],[18.8,1.565],[19.2,1.578],[19.95,1.565],[115,1.578],[115.5,1.565],[116,1.572],[116.8,1.562],[117.3,1.55],[117.8,1.565],[118.5,1.56],[119.2,1.565],[120,1.56]];
const eiLine3Top = [[5.8,2],[5.85,1.93],[6,1.854],[6.3,1.83],[6.6,1.775],[6.92,1.774],[7.2,1.752],[7.6,1.742],[7.9,1.755],[8.2,1.72],[8.6,1.735],[9,1.712],[9.4,1.725],[9.7,1.71],[10.3,1.72],[10.8,1.71],[11.2,1.688],[11.5,1.695],[12,1.705],[12.4,1.698],[12.9,1.705],[13.3,1.685],[13.7,1.715],[14.1,1.69],[14.6,1.708],[15.2,1.715],[15.6,1.69],[16,1.71],[16.5,1.695],[16.9,1.72],[17.3,1.692],[17.9,1.712],[18.3,1.7],[18.8,1.716],[19.3,1.695],[19.95,1.71],[115,1.715],[115.6,1.72],[116.2,1.705],[116.6,1.715],[117.1,1.695],[117.6,1.705],[118.1,1.718],[118.6,1.7],[119.2,1.712],[120,1.69]];
const eiLine4Top = [[6.92,2],[6.98,1.95],[7.1,1.97],[7.15,1.91],[7.3,1.93],[7.45,1.875],[7.7,1.89],[7.9,1.875],[8.1,1.862],[8.3,1.89],[8.5,1.85],[8.7,1.88],[8.9,1.842],[9.05,1.87],[9.25,1.84],[9.45,1.865],[9.6,1.838],[9.9,1.845],[10.2,1.85],[10.5,1.87],[10.7,1.845],[11,1.825],[11.3,1.822],[11.7,1.845],[12,1.84],[12.3,1.862],[12.5,1.83],[12.8,1.858],[13,1.85],[13.2,1.845],[13.45,1.87],[13.7,1.835],[13.9,1.86],[14.15,1.81],[14.4,1.86],[14.65,1.85],[15,1.85],[15.2,1.862],[15.45,1.84],[15.65,1.825],[15.9,1.85],[16.3,1.835],[16.6,1.85],[16.9,1.845],[17.2,1.835],[17.5,1.822],[17.8,1.85],[18.2,1.83],[18.6,1.855],[18.9,1.84],[19.3,1.848],[19.95,1.846],[115,1.855],[115.2,1.86],[115.5,1.85],[115.8,1.835],[116.2,1.845],[116.6,1.825],[117,1.835],[117.4,1.84],[117.8,1.84],[118.2,1.862],[118.5,1.87],[118.85,1.845],[119.2,1.825],[119.6,1.835],[120,1.82]];
const eiLine1Bottom = [[4.44,0],[4.46,.1],[4.55,.232],[4.7,.32],[4.88,.39],[5.05,.44],[5.3,.47],[5.6,.505],[6,.534],[6.4,.556],[6.92,.574],[7.5,.585],[8,.598],[8.55,.606],[9.2,.61],[9.94,.61],[10.5,.603],[11.1,.6],[11.7,.604],[12.5,.598],[13.4,.606],[14,.612],[14.8,.608],[15.7,.614],[16.6,.608],[17.5,.614],[18.4,.606],[19.2,.612],[19.95,.61],[115,.61],[115.7,.606],[116,.6],[116.6,.606],[117.2,.625],[117.7,.608],[118.6,.606],[119.4,.608],[120,.595]];
const eiLine2Bottom = [[5.06,0],[5.08,.1],[5.18,.2],[5.4,.23],[5.76,.264],[6,.33],[6.2,.375],[6.5,.395],[6.92,.415],[7.3,.4],[7.5,.425],[8,.42],[8.55,.43],[9,.42],[9.4,.44],[9.94,.436],[10.6,.43],[11.3,.44],[11.9,.422],[12.6,.43],[13.4,.424],[13.7,.438],[14.4,.432],[15.2,.44],[15.9,.43],[16.6,.438],[17.3,.432],[18,.442],[18.7,.436],[19.3,.442],[19.95,.44],[115,.44],[115.6,.432],[116.2,.43],[116.9,.438],[117.6,.43],[118.3,.436],[119,.428],[119.6,.432],[120,.415]];
const eiLine3Bottom = [[5.73,0],[5.74,.06],[5.76,.137],[6.05,.185],[6.34,.248],[6.6,.265],[6.9,.24],[7.15,.288],[7.4,.27],[7.6,.296],[8,.28],[8.5,.295],[8.9,.285],[9.3,.3],[9.7,.275],[10.1,.295],[10.6,.285],[11,.3],[11.4,.275],[11.9,.295],[12.3,.29],[12.8,.305],[13.2,.27],[13.7,.3],[14.2,.285],[14.7,.305],[15.2,.28],[15.7,.305],[16.2,.29],[16.7,.31],[17.2,.285],[17.7,.305],[18.2,.285],[18.7,.31],[19.2,.28],[19.95,.295],[115,.29],[115.4,.275],[116,.305],[116.6,.295],[117,.31],[117.5,.285],[118,.3],[118.6,.28],[119.1,.305],[119.6,.31],[120,.29]];
const eiLine4Bottom = [[6.8,0],[6.82,.06],[7.04,.073],[7.2,.115],[7.5,.11],[7.8,.14],[8.1,.153],[8.4,.16],[8.78,.169],[9.1,.155],[9.4,.14],[9.7,.137],[10,.165],[10.3,.15],[10.6,.17],[10.9,.169],[11.2,.15],[11.5,.175],[11.9,.155],[12.2,.14],[12.5,.12],[12.7,.125],[13,.165],[13.2,.155],[13.6,.16],[14,.14],[14.5,.17],[15,.169],[15.4,.15],[15.8,.175],[16.2,.155],[16.7,.175],[17.2,.17],[17.6,.2],[18,.16],[18.5,.145],[18.9,.175],[19.3,.15],[19.95,.169],[115,.15],[115.3,.125],[115.7,.165],[116.2,.175],[116.6,.155],[117,.18],[117.5,.15],[118,.17],[118.6,.15],[119.2,.17],[120,.15]];
const eiLines = [eiLine1Top, eiLine2Top, eiLine3Top, eiLine4Top, eiLine1Bottom, eiLine2Bottom, eiLine3Bottom, eiLine4Bottom];

const rainbow = [[0, 0, 255], [0, 255, 255], [0, 255, 0], [255, 255, 0], [255, 0, 0]];
const levelCount = 36;

Chart.defaults.font.family = '"Liberation Sans", Arial, sans-serif';
Chart.defaults.color = '#000';

function levelColor(k) {
  const p = k / (levelCount - 1) * 4;
  const i = Math.min(3, Math.floor(p));
  const f = p - i;
  return rainbow[i].map((c, n) => Math.round(c + (rainbow[i + 1][n] - c) * f));
}

// the axis is continuous, times past the break are shifted back onto it
function axisTime(t) {
  return t > 20 ? t - 94.82 : t;
}

function upright(list) {
  return list.map((s) => [s[0], s[1], s[0], s[2]]);
}

function fullHeight(times, from, to) {
  return times.map((t) => [t, from, t, to]);
}

function addCanvas(left, top, width, height) {
  const canvas = document.createElement('canvas');
  canvas.width = width;
  canvas.height = height;
  canvas.style.left = left + 'px';
  canvas.style.top = top + 'px';
  document.getElementById('page').appendChild(canvas);
  return canvas;
}

function findCell(nodes, value) {
  let i = 0;
  while (i < nodes.length - 2 && nodes[i + 1] <= value) i++;
  return [i, Math.min(1, Math.max(0, (value - nodes[i]) / (nodes[i + 1] - nodes[i])))];
}

// paints the level bands of the value grid into the plot area
function fieldPlugin(cfg) {
  const nodes = cfg.times.map(axisTime);
  const band = (cfg.max - cfg.min) / levelCount;
  const colors = [];
  for (let k = 0; k < levelCount; k++) colors.push(levelColor(k));
  return {
    id: 'field',
    beforeDatasetsDraw(chart) {
      const area = chart.chartArea;
      const w = Math.round(area.right - area.left);
      const h = Math.round(area.bottom - area.top);
      const off = document.createElement('canvas');
      off.width = w;
      off.height = h;
      const octx = off.getContext('2d');
      const img = octx.createImageData(w, h);
      const xCells = [];
      for (let px = 0; px < w; px++) xCells.push(findCell(nodes, chart.scales.x.getValueForPixel(area.left + px + 0.5)));
      let o = 0;
      for (let py = 0; py < h; py++) {
        const [j, fy] = findCell(cfg.positions, chart.scales.y.getValueForPixel(area.top + py + 0.5));
        for (let px = 0; px < w; px++) {
          const [i, fx] = xCells[px];
          const a = cfg.values[i][j] * (1 - fy) + cfg.values[i][j + 1] * fy;
          const b = cfg.values[i + 1][j] * (1 - fy) + cfg.values[i + 1][j + 1] * fy;
          const v = a * (1 - fx) + b * fx;
          const k = Math.max(0, Math.min(levelCount - 1, Math.floor((v - cfg.min) / band)));
          img.data[o++] = colors[k][0];
          img.data[o++] = colors[k][1];
          img.data[o++] = colors[k][2];
          img.data[o++] = 255;
        }
      }
      octx.putImageData(img, 0, 0);
      chart.ctx.drawImage(off, area.left, area.top);
    }
  };
}

// white gap, frame, minor ticks and the // marks
const framePlugin = {
  id: 'panelFrame',
  afterDatasetsDraw(chart) {
    const { ctx, chartArea: area, scales } = chart;
    const stripL = scales.x.getPixelForValue(19.9);
    const stripR = scales.x.getPixelForValue(20.35);
    ctx.save();
    ctx.fillStyle = '#fff';
    ctx.fillRect(stripL, area.top, stripR - stripL, area.bottom - area.top);
    ctx.strokeStyle = '#000';
    ctx.lineWidth = 3;
    ctx.strokeRect(area.left, area.top, area.right - area.left, area.bottom - area.top);
    ctx.beginPath();
    timeMinorPos.forEach((v) => {
      const x = scales.x.getPixelForValue(v);
      ctx.moveTo(x, area.bottom);
      ctx.lineTo(x, area.bottom + 8);
    });
    posMinor.forEach((v) => {
      const y = scales.y.getPixelForValue(v);
      ctx.moveTo(area.left, y);
      ctx.lineTo(area.left - 8, y);
    });
    ctx.stroke();
    const mid = scales.x.getPixelForValue(20.18);
    const edges = chart.options.plugins.panelFrame.topMark ? [area.bottom, area.top] : [area.bottom];
    ctx.beginPath();
    edges.forEach((y) => {
      ctx.moveTo(mid - 11.5, y + 14);
      ctx.lineTo(mid - 1.5, y - 14);
      ctx.moveTo(mid - 0.5, y + 14);
      ctx.lineTo(mid + 10, y - 14);
    });
    ctx.stroke();
    ctx.restore();
  }
};

// frame of the colour bar and the small raised exponents next to its labels
function barFramePlugin(cfg) {
  return {
    id: 'barFrame',
    afterDraw(chart) {
      const { ctx, chartArea: area, scales } = chart;
      ctx.save();
      ctx.strokeStyle = '#000';
      ctx.lineWidth = 2.5;
      ctx.strokeRect(area.left, area.top, area.right - area.left, area.bottom - area.top);
      ctx.fillStyle = '#000';
      ctx.textBaseline = 'middle';
      cfg.barTicks.forEach((value, n) => {
        if (!cfg.barExp[n]) return;
        ctx.font = `${cfg.barFont}px "Liberation Sans"`;
        const x = area.right + 12 + ctx.measureText(cfg.barText[n]).width + 1;
        ctx.font = '16px "Liberation Sans"';
        ctx.fillText(cfg.barExp[n], x, scales.y.getPixelForValue(value) - 7);
      });
      ctx.restore();
    }
  };
}

function fixedTicks(list) {
  return (scale) => { scale.ticks = list.map((value) => ({ value })); };
}

function drawPanel(cfg) {
  const yWidth = cfg.titleLeft + 22;
  const xHeight = cfg.titleBelow + 22;
  const padTop = 40;
  const padRight = 40;
  const canvas = addCanvas(cfg.left - yWidth, cfg.top - padTop,
    cfg.right - cfg.left + yWidth + padRight, cfg.bottom - cfg.top + padTop + xHeight);
  const cells = [];
  cfg.times.forEach((t, i) => cfg.positions.forEach((y, j) => cells.push({ x: axisTime(t), y, v: cfg.values[i][j] })));
  const datasets = [];
  // chart.js paints the first dataset on top, so the black lines go before the streaks
  (cfg.lines || []).forEach((line) => {
    datasets.push({
      label: 'contour',
      data: line.map((p) => ({ x: axisTime(p[0]), y: p[1] })),
      showLine: true,
      pointRadius: 0,
      borderColor: '#333',
      borderWidth: 1.3,
      tension: 0
    });
  });
  (cfg.streaks || []).forEach((group) => {
    group.segments.forEach((s) => {
      datasets.push({
        label: 'streak',
        data: [{ x: axisTime(s[0]), y: s[1] }, { x: axisTime(s[2]), y: s[3] }],
        showLine: true,
        pointRadius: 0,
        borderColor: group.color,
        borderWidth: group.width,
        tension: 0
      });
    });
  });
  datasets.push({ label: 'field', data: cells, pointRadius: 0, showLine: false });
  new Chart(canvas, {
    type: 'scatter',
    data: { datasets },
    plugins: [fieldPlugin(cfg), framePlugin],
    options: {
      responsive: false,
      animation: false,
      devicePixelRatio: 1,
      layout: { padding: { top: padTop, right: padRight, left: 0, bottom: 0 } },
      plugins: { legend: { display: false }, tooltip: { enabled: false }, panelFrame: { topMark: !!cfg.topMark } },
      scales: {
        x: {
          type: 'linear',
          min: 0,
          max: 25.18,
          afterBuildTicks: fixedTicks(timeTickPos),
          afterFit: (scale) => { scale.height = xHeight; },
          border: { display: false },
          grid: { drawOnChartArea: false, tickLength: 15, tickWidth: 3, tickColor: '#000' },
          ticks: {
            autoSkip: false,
            maxRotation: 0,
            padding: 7,
            font: { size: 29 },
            callback: (value) => timeTickText[timeTickPos.indexOf(value)]
          },
          title: { display: true, text: 'Time(µs)', font: { size: 37 }, padding: 0 }
        },
        y: {
          type: 'linear',
          min: 0,
          max: 2,
          afterBuildTicks: fixedTicks(posTicks),
          afterFit: (scale) => { scale.width = yWidth; },
          border: { display: false },
          grid: { drawOnChartArea: false, tickLength: 15, tickWidth: 3, tickColor: '#000' },
          ticks: { autoSkip: false, padding: 11, font: { size: 29 }, callback: (value) => value.toFixed(1) },
          title: { display: true, text: 'Position(cm)', font: { size: 37 }, padding: 0 }
        }
      }
    }
  });
}

function drawColorBar(cfg) {
  const band = (cfg.max - cfg.min) / levelCount;
  const padTop = 40;
  const padBottom = 40;
  const padLeft = 2;
  const labelRoom = 130;
  const canvas = addCanvas(cfg.barLeft - padLeft, cfg.top - padTop, cfg.barRight - cfg.barLeft + padLeft + labelRoom, cfg.bottom - cfg.top + padTop + padBottom);
  const datasets = [];
  for (let k = 0; k < levelCount; k++) {
    const c = levelColor(k);
    datasets.push({ data: [[cfg.min + k * band, cfg.min + (k + 1) * band]], backgroundColor: `rgb(${c[0]},${c[1]},${c[2]})` });
  }
  // slightly under the first and last band so no seam shows
  datasets.push({ data: [[cfg.min - band, cfg.min + 0.2 * band]], backgroundColor: '#000' });
  datasets.push({ data: [[cfg.max - 0.2 * band, cfg.max + band]], backgroundColor: '#808080' });
  datasets.forEach((d) => { d.grouped = false; d.barPercentage = 1; d.categoryPercentage = 1; d.borderWidth = 0; });
  new Chart(canvas, {
    type: 'bar',
    data: { labels: [''], datasets },
    plugins: [barFramePlugin(cfg)],
    options: {
      responsive: false,
      animation: false,
      devicePixelRatio: 1,
      layout: { padding: { top: padTop, bottom: padBottom, left: padLeft, right: 0 } },
      plugins: { legend: { display: false }, tooltip: { enabled: false } },
      scales: {
        x: { display: false },
        y: {
          position: 'right',
          type: 'linear',
          min: cfg.min - band,
          max: cfg.max + band,
          afterBuildTicks: fixedTicks(cfg.barTicks),
          afterFit: (scale) => { scale.width = labelRoom; },
          border: { display: false },
          grid: { drawOnChartArea: false, tickLength: 9, tickWidth: 3, tickColor: '#000' },
          ticks: {
            autoSkip: false,
            padding: 3,
            font: { size: cfg.barFont },
            callback: (value) => cfg.barText[cfg.barTicks.indexOf(value)]
          }
        }
      }
    }
  });
}

const panels = [
  { left: 133, top: 55, right: 759, bottom: 657, barLeft: 777, barRight: 824, titleLeft: 96, titleBelow: 81, topMark: true, barFont: 24.5,
    times: neTimes, positions: nePositions, values: neValues, min: 0, max: 7.8, barTicks: neBarTicks, barText: neBarText, barExp: neBarExp,
    streaks: [{ color: 'rgba(0,146,255,.8)', width: 2, segments: upright(neCentreSpikes) }] },
  { left: 1061, top: 57, right: 1677, bottom: 648, barLeft: 1695, barRight: 1742, titleLeft: 95, titleBelow: 81, barFont: 24,
    times: eeTimes, positions: eePositions, values: eeValues, min: 17.2, max: 78.8, barTicks: eeBarTicks, barText: eeBarText, barExp: eeBarExp,
    streaks: [
      { color: 'rgba(255,230,0,.7)', width: 1.5, segments: upright(eeBrightSpikes) },
      { color: 'rgba(0,110,255,.5)', width: 2, segments: fullHeight(eeDarkTimes, 0, .03).concat(fullHeight(eeDarkTimes, 1.97, 2)) },
      { color: 'rgba(255,255,0,.16)', width: 1.5, segments: fullHeight(eeLightTimes, .05, 1.95) },
      { color: 'rgba(0,190,60,.14)', width: 1.5, segments: fullHeight(eeDarkTimes, .05, 1.95) }
    ] },
  { left: 134, top: 783, right: 747, bottom: 1372, barLeft: 765, barRight: 813, titleLeft: 96, titleBelow: 83, barFont: 23.5,
    times: niTimes, positions: niPositions, values: niValues, min: 0, max: 5.4, barTicks: niBarTicks, barText: niBarText, barExp: niBarExp,
    streaks: [
      { color: 'rgba(255,70,0,.3)', width: 6, segments: niOrangeStreaks },
      { color: 'rgba(235,255,0,.4)', width: 3, segments: niYellowStreaks },
      { color: 'rgba(90,255,0,.35)', width: 3, segments: niGreenStreaks }
    ] },
  { left: 1057, top: 782, right: 1680, bottom: 1380, barLeft: 1699, barRight: 1746, titleLeft: 93, titleBelow: 73, barFont: 23.5,
    times: eiTimes, positions: eiPositions, values: eiValues, min: 0, max: 10, barTicks: eiBarTicks, barText: eiBarText, barExp: eiBarExp, lines: eiLines,
    streaks: [{ color: 'rgba(255,150,0,.2)', width: 5, segments: upright(eiWallSpikes) }] }
];

panels.forEach((cfg) => {
  drawPanel(cfg);
  drawColorBar(cfg);
});
</script>
</body>
</html>
